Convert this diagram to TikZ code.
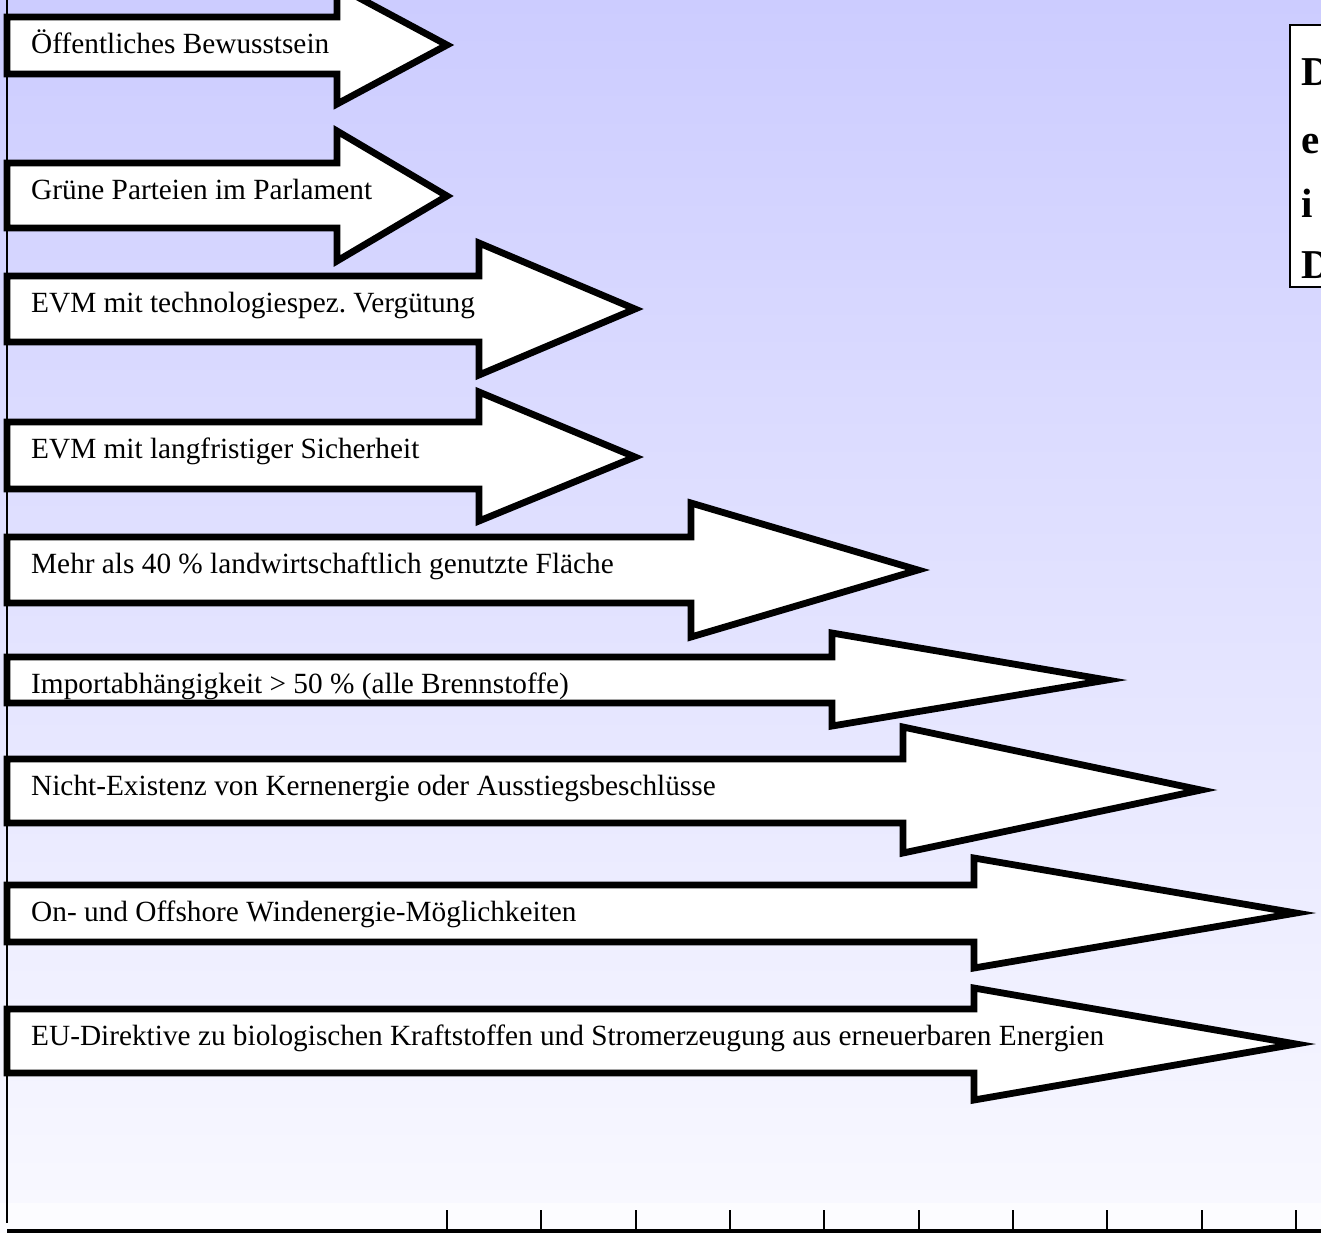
\documentclass[tikz,border=0pt]{standalone}
\usepackage{fontspec}
\setmainfont{Liberation Serif}
\frenchspacing
\definecolor{bgtop}{RGB}{204,204,255}
\definecolor{bgbot}{RGB}{248,248,255}
\definecolor{bgfoot}{RGB}{252,252,255}
\tikzset{
  bigarrow/.style={draw=black, fill=white, line width=6.8bp, line join=miter, miter limit=12},
  lbl/.style={anchor=base west, inner sep=0pt, font=\fontsize{29.3bp}{35bp}\selectfont},
  ttl/.style={anchor=base west, inner sep=0pt, font=\fontsize{41bp}{48bp}\selectfont\bfseries},
  axisline/.style={draw=black, line width=2bp},
  tickline/.style={draw=black, line width=2bp}
}
\begin{document}
\begin{tikzpicture}[x=1bp, y=-1bp]
\useasboundingbox (0,0) rectangle (1321,1233);
\clip (0,0) rectangle (1321,1233);
% background
\shade[top color=bgtop, bottom color=bgbot] (0,0) rectangle (1321,1203);
\fill[bgfoot] (0,1203) rectangle (1321,1233);
% axes
\coordinate (ytop) at (7,0);
\coordinate (ybot) at (7,1223);
\coordinate (xl) at (7,1231);
\coordinate (xr) at (1321,1231);
\draw[axisline] (ytop) -- (ybot);
\draw[draw=black, line width=3.5bp] (xl) -- (xr);
\foreach \i in {0,...,9} {
  \coordinate (tk\i) at ({447+94.35*\i},1210);
  \coordinate (tb\i) at ({447+94.35*\i},1233);
  \draw[tickline] (tk\i) -- (tb\i);
}
% title box (cut off at right edge)
\draw[draw=black, line width=2bp, fill=white] (1290,25) rectangle (1400,287);
\node[ttl] (ti1) at (1301,85) {D};
\node[ttl] (ti2) at (1301,153) {e};
\node[ttl] (ti3) at (1301,217) {i};
\node[ttl] (ti4) at (1301,278) {D};
% arrows: left 7, shaft top, shaft bottom, head base x, head top, head bottom, tip
\draw[bigarrow] (7,17) -- (337,17) -- (337,-14) -- (447,45) -- (337,104) -- (337,74) -- (7,74) -- cycle;
\node[lbl] (a1) at (31,53) {Öffentliches Bewusstsein};
\draw[bigarrow] (7,163) -- (337,163) -- (337,131) -- (447,196) -- (337,261) -- (337,228) -- (7,228) -- cycle;
\node[lbl] (a2) at (31,199) {Grüne Parteien im Parlament};
\draw[bigarrow] (7,276) -- (479,276) -- (479,243) -- (635,309) -- (479,375) -- (479,342) -- (7,342) -- cycle;
\node[lbl] (a3) at (31,312) {EVM mit technologiespez. Vergütung};
\draw[bigarrow] (7,422) -- (479,422) -- (479,392) -- (635,457) -- (479,521) -- (479,489) -- (7,489) -- cycle;
\node[lbl] (a4) at (31,458) {EVM mit langfristiger Sicherheit};
\draw[bigarrow] (7,537) -- (691,537) -- (691,503) -- (918,570) -- (691,637) -- (691,603) -- (7,603) -- cycle;
\node[lbl] (a5) at (31,573) {Mehr als 40 \% landwirtschaftlich genutzte Fläche};
\draw[bigarrow] (7,657) -- (832,657) -- (832,633) -- (1107,680) -- (832,726) -- (832,703) -- (7,703) -- cycle;
\node[lbl] (a6) at (31,693) {Importabhängigkeit > 50 \% (alle Brennstoffe)};
\draw[bigarrow] (7,759) -- (903,759) -- (903,727) -- (1201,790) -- (903,853) -- (903,823) -- (7,823) -- cycle;
\node[lbl] (a7) at (31,795) {Nicht-Existenz von Kernenergie oder Ausstiegsbeschlüsse};
\draw[bigarrow] (7,885) -- (974,885) -- (974,858) -- (1296,913) -- (974,968) -- (974,942) -- (7,942) -- cycle;
\node[lbl] (a8) at (31,921) {On- und Offshore Windenergie-Möglichkeiten};
\draw[bigarrow] (7,1009) -- (974,1009) -- (974,988) -- (1296,1044) -- (974,1100) -- (974,1073) -- (7,1073) -- cycle;
\node[lbl] (a9) at (31,1045) {EU-Direktive zu biologischen Kraftstoffen und Stromerzeugung aus erneuerbaren Energien};
\end{tikzpicture}
\end{document}
